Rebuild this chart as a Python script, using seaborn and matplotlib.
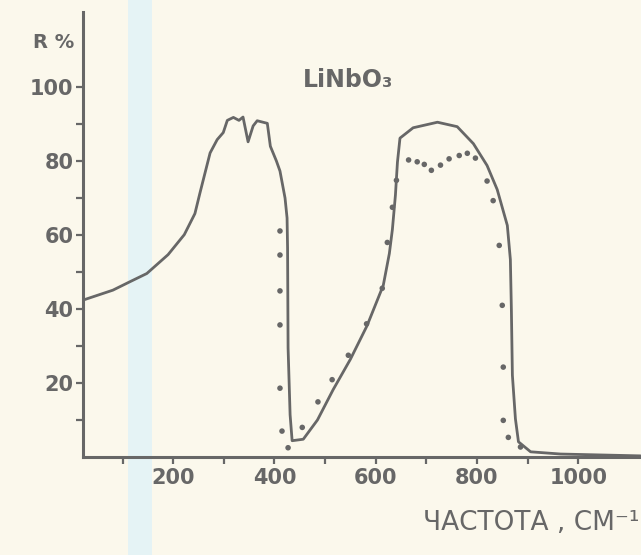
import matplotlib.pyplot as plt
import seaborn as sns
from matplotlib.patches import Rectangle

# LiNbO3 infrared reflectance: calculated curve (line) and measured points (dots)
calc_freq = [24, 81, 115, 148, 190, 222, 243, 253, 263, 273, 287, 299, 307, 319, 330, 338,
             348, 358, 366, 386, 392, 404, 411, 421, 425, 426, 427, 431, 435, 457, 485,
             516, 550, 583, 615, 627, 633, 639, 643, 648, 674, 722, 761, 793, 820, 840,
             860, 866, 868, 870, 876, 882, 906, 965, 1123]
calc_refl = [42.5, 45.1, 47.4, 49.6, 54.7, 60.1, 65.8, 71.4, 76.8, 82.2, 85.8, 87.7, 91.0, 91.8, 91.0, 91.9,
             85.2, 89.5, 90.9, 90.2, 84.0, 80.0, 77.3, 70.0, 64.6, 56.5, 29.5, 11.4, 4.4, 4.8, 10.0,
             18.2, 26.4, 35.5, 46.4, 55.0, 61.5, 70.8, 79.7, 86.2, 89.0, 90.5, 89.3, 84.7, 78.8, 72.3,
             62.6, 53.4, 39.9, 22.1, 10.3, 4.1, 1.4, 0.8, 0.3]

meas_freq = [411, 411, 411, 411, 411, 415, 427, 455, 486, 514, 546, 582, 613, 623, 633, 641,
             665, 682, 696, 710, 728, 745, 765, 781, 797, 820, 832, 844, 850, 852, 852, 862, 886]
meas_refl = [61.1, 54.6, 44.9, 35.7, 18.6, 7.0, 2.5, 8.0, 14.9, 20.9, 27.5, 36.0, 45.6, 58.0, 67.5, 74.8,
             80.3, 79.8, 79.1, 77.5, 78.9, 80.6, 81.5, 82.1, 80.8, 74.6, 69.3, 57.2, 41.0, 24.3, 9.9, 5.3, 2.7]

x_major = [200, 400, 600, 800, 1000]
x_minor = [100, 300, 500, 700, 900]
y_major = [20, 40, 60, 80, 100]
y_minor = [10, 30, 50, 70, 90]

PAPER = "#fbf8ec"
INK = "#676767"

sns.set_style("ticks")
plt.rcParams["font.family"] = ["DejaVu Sans"]

fig = plt.figure(figsize=(6.41, 5.55), dpi=100, facecolor=PAPER)
# pale blue stripe left by the scanner
fig.add_artist(Rectangle((0.2, 0), 0.037, 1, transform=fig.transFigure,
                         facecolor="#e5f3f5", edgecolor="none", zorder=0))

ax = fig.add_axes([0.1295, 0.1766, 0.8705, 0.8018])
ax.set_facecolor("none")

sns.lineplot(x=calc_freq, y=calc_refl, ax=ax, sort=False, estimator=None,
             color=INK, linewidth=2.0)
sns.scatterplot(x=meas_freq, y=meas_refl, ax=ax, color=INK, s=16,
                edgecolor="none", zorder=3)

ax.set_xlim(22, 1124)
ax.set_ylim(0, 120.3)

ax.set_xticks(x_major)
ax.set_xticks(x_minor, minor=True)
ax.set_yticks(y_major)
ax.set_yticks(y_minor, minor=True)

for side in ["top", "right"]:
    ax.spines[side].set_visible(False)
for side in ["left", "bottom"]:
    ax.spines[side].set_color(INK)
    ax.spines[side].set_linewidth(2.2)

ax.tick_params(axis="both", which="both", direction="out", color=INK, width=1.6,
               length=5, labelcolor=INK)
ax.tick_params(axis="y", which="major", pad=2, labelsize=15)
ax.tick_params(axis="x", which="major", pad=3, labelsize=15)
for lbl in ax.get_xticklabels() + ax.get_yticklabels():
    lbl.set_fontweight("bold")

ax.text(546, 102, "LiNbO₃", color=INK, fontsize=17, fontweight="bold",
        ha="center", va="center")

fig.text(0.051, 0.924, "R %", color=INK, fontsize=14, fontweight="bold",
         ha="left", va="center")
fig.text(0.997, 0.057, "ЧАСТОТА , СМ⁻¹", color=INK, fontsize=19,
         ha="right", va="center")

fig.savefig("out.png", dpi=100, facecolor=PAPER)
